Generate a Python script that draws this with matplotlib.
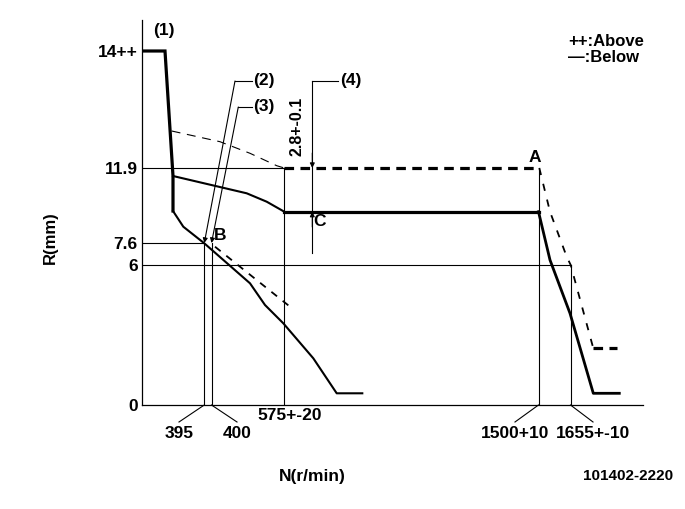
import matplotlib
matplotlib.use("Agg")
import matplotlib.pyplot as plt

# schematic diagram: coordinates are drawing units (not to scale), origin at axis corner
plt.rcParams["font.family"] = ["Liberation Sans", "DejaVu Sans"]
plt.rcParams["font.weight"] = "bold"

# y reference levels (R, mm)
y_labels = ["14++", "11.9", "7.6", "6", "0"]
y_pos = [354, 237, 162, 140, 0]

# x reference speeds (N, r/min)
x_labels = ["395", "400", "575+-20", "1500+10", "1655+-10"]
x_pos = [62.3, 69.5, 142.3, 396.5, 428.5]
x_label_xy = [(37, -28), (95, -28), (148, -11), (373, -28), (451, -28)]

# "Below" (solid) characteristic
full_x = [0, 23, 31, 31]
full_y = [354, 354, 229, 194]
start_x = [31, 41.3, 62.3, 108, 123, 141.3, 171.3, 194.7, 220.3]
start_y = [194, 178.3, 161.7, 121.7, 100, 81.7, 46.7, 11.7, 11.7]
upper_x = [31, 104.7, 124.7, 142.3]
upper_y = [229, 211.7, 203.3, 193.3]
flat_x = [142.3, 396.5]
flat_y = [193.3, 193.3]
gov_x = [396.5, 408, 428, 451.3, 477.3]
gov_y = [193.3, 145, 91.7, 11.7, 11.7]

# "Above" (dashed) characteristic
a_upper_x = [29.7, 78, 108, 134.7, 142.3]
a_upper_y = [274, 263.3, 251.7, 239.3, 237]
a_flat_x = [142.3, 396.5]
a_flat_y = [237, 237]
a_gov_x = [397.3, 408, 424.7, 428.7, 451.3]
a_gov_y = [237, 193.3, 148.3, 140, 56.7]
a_end_x = [451.3, 474.7]
a_end_y = [56.7, 56.7]
a_start_x = [73, 148]
a_start_y = [158.3, 98.3]

fig = plt.figure(figsize=(6.85, 5.09), dpi=100)
ax = fig.add_axes([142 / 685, 104 / 509, 501 / 685, 385 / 509])
ax.set_xlim(0, 501)
ax.set_ylim(0, 385)
for s in ["top", "right"]:
    ax.spines[s].set_visible(False)
for s in ["left", "bottom"]:
    ax.spines[s].set_linewidth(0.9)
ax.set_xticks([])
ax.set_yticks(y_pos)
ax.set_yticklabels(y_labels, fontsize=12.5)
ax.tick_params(axis="y", length=0, pad=3)

k = "black"
thin = 0.8
# reference lines
ax.plot([0, x_pos[2]], [y_pos[1]] * 2, color=k, lw=thin)
ax.plot([0, x_pos[0]], [y_pos[2]] * 2, color=k, lw=thin)
ax.plot([0, x_pos[4]], [y_pos[3]] * 2, color=k, lw=thin)
ax.plot([x_pos[0]] * 2, [0, y_pos[2]], color=k, lw=thin)
ax.plot([x_pos[1]] * 2, [0, y_pos[2]], color=k, lw=thin)
ax.plot([x_pos[2]] * 2, [0, y_pos[1]], color=k, lw=thin)
ax.plot([x_pos[3]] * 2, [0, y_pos[1]], color=k, lw=thin)
ax.plot([x_pos[4]] * 2, [0, y_pos[3]], color=k, lw=thin)

# solid curves
ax.plot(full_x, full_y, color=k, lw=2.3, solid_joinstyle="miter")
ax.plot(start_x, start_y, color=k, lw=1.5)
ax.plot(upper_x, upper_y, color=k, lw=1.5)
ax.plot(flat_x, flat_y, color=k, lw=2.3)
ax.plot(gov_x, gov_y, color=k, lw=2.0)

# dashed curves
ax.plot(a_upper_x, a_upper_y, color=k, lw=0.8, dashes=(8, 6))
ax.plot(a_flat_x, a_flat_y, color=k, lw=2.3, dashes=(3, 2))
ax.plot(a_gov_x, a_gov_y, color=k, lw=1.3, dashes=(4, 5))
ax.plot(a_end_x, a_end_y, color=k, lw=2.3, dashes=(3, 2))
ax.plot(a_start_x, a_start_y, color=k, lw=1.3, dashes=(4, 4))

# x labels with leader lines
for xp, lab, (tx, ty) in zip(x_pos, x_labels, x_label_xy):
    ax.text(tx, ty, lab, fontsize=12.5, ha="center", va="center", clip_on=False)
    if lab != "575+-20":
        ax.plot([xp, tx], [0, -17], color=k, lw=thin, clip_on=False)

# leaders (2), (3), (4)
arr = dict(arrowstyle="-|>", color=k, lw=thin, mutation_scale=7, shrinkA=0, shrinkB=0)
ax.plot([93, 109.7], [324, 324], color=k, lw=thin)
ax.annotate("", xy=(62.3, 162), xytext=(93, 324), arrowprops=arr)
ax.plot([96.3, 109.7], [298, 298], color=k, lw=thin)
ax.annotate("", xy=(69.5, 162), xytext=(96.3, 298), arrowprops=arr)
ax.plot([170.3, 170.3], [151.7, 324.3], color=k, lw=thin)
ax.plot([170.3, 196.3], [324.3, 324.3], color=k, lw=thin)
ax.annotate("", xy=(170.3, 237), xytext=(170.3, 252), arrowprops=arr)
ax.annotate("", xy=(170.3, 193.3), xytext=(170.3, 178), arrowprops=arr)

ax.text(22, 375, "(1)", fontsize=12.5, ha="center", va="center")
ax.text(111, 324, "(2)", fontsize=12.5, ha="left", va="center")
ax.text(111, 298, "(3)", fontsize=12.5, ha="left", va="center")
ax.text(198, 325, "(4)", fontsize=12.5, ha="left", va="center")
ax.text(155, 279, "2.8+-0.1", fontsize=11.5, rotation=90, ha="center", va="center")
ax.text(393, 247, "A", fontsize=12.5, ha="center", va="center")
ax.text(78, 169, "B", fontsize=12.5, ha="center", va="center")
ax.text(177, 183, "C", fontsize=12.5, ha="center", va="center")

# legend and titles (figure pixel coords)
fig.text(568 / 685, 1 - 41 / 509, "++:Above", fontsize=12, ha="left", va="center")
fig.text(568 / 685, 1 - 58 / 509, "\u2014:Below", fontsize=12, ha="left", va="center")
fig.text(50 / 685, 1 - 238 / 509, "R(mm)", fontsize=12, rotation=90, ha="center", va="center")
fig.text(312 / 685, 1 - 476 / 509, "N(r/min)", fontsize=12.5, ha="center", va="center")
fig.text(628 / 685, 1 - 476 / 509, "101402-2220", fontsize=11, ha="center", va="center")

fig.savefig("out.png", dpi=100)
